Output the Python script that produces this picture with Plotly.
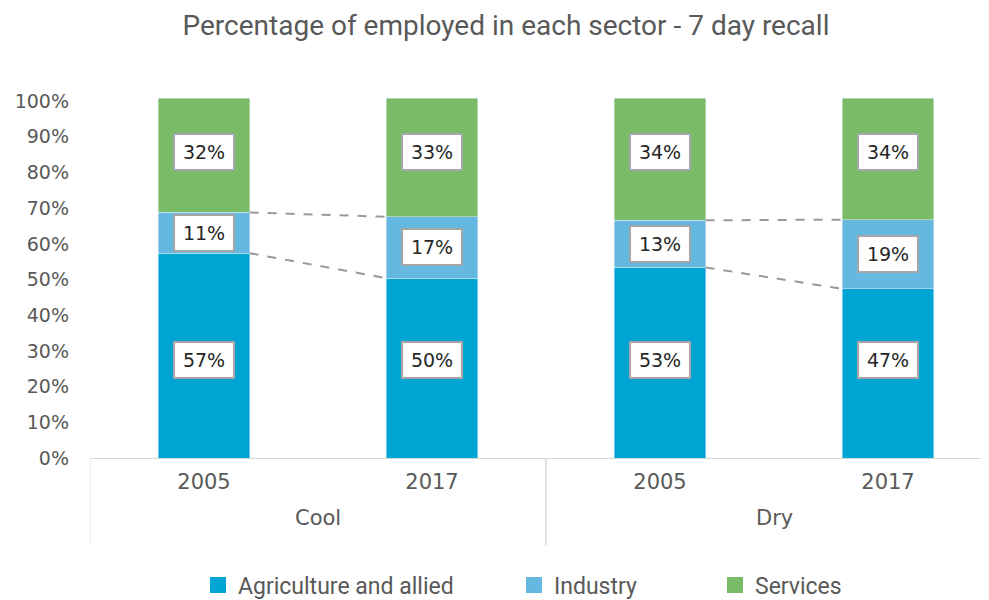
import plotly.graph_objects as go
import numpy as np

groups = ["Cool", "Cool", "Dry", "Dry"]
years = ["2005", "2017", "2005", "2017"]
agriculture = [57.4, 50.4, 53.4, 47.4]
industry = [11.4, 17.2, 13.2, 19.4]
services = [32.0, 33.2, 34.2, 34.0]
series_names = ["Agriculture and allied", "Industry", "Services"]
colors = ["#00A5D4", "#65B9E0", "#79BC67"]
y_ticks = list(range(0, 101, 10))
y_tick_text = [f"{v}%" for v in y_ticks]

TICK_FONT = "DejaVu Sans"
TEXT_FONT = "Roboto"
GREY = "#595959"

# the page body adds an 8px offset, so the figure is drawn 8px smaller
W, H = 981, 592
ML, MT, MB = 82, 86, 142

xpos = np.arange(len(years))
bar_w = 0.4
series = [agriculture, industry, services]

fig = go.Figure()
for name, vals, col in zip(series_names, series, colors):
    fig.add_trace(go.Bar(x=xpos, y=vals, name=name, marker_color=col,
                         width=bar_w, showlegend=False))
# legend entries with larger square symbols, one legend box each
legend_ids = ["legend", "legend2", "legend3"]
for name, col, lg in zip(series_names, colors, legend_ids):
    fig.add_trace(go.Scatter(x=[None], y=[None], mode="markers", name=name,
                             legend=lg,
                             marker=dict(symbol="square", size=18, color=col)))

# value label boxes (agriculture and services labels share a common row,
# industry labels sit in the middle of their segment)
label_rows = [27.6, None, 85.7]
cum = np.zeros(len(years))
annotations = []
for vals, row in zip(series, label_rows):
    v = np.array(vals)
    mids = cum + v / 2
    for i in range(len(years)):
        yy = row if row is not None else mids[i]
        annotations.append(dict(x=xpos[i], y=yy, xref="x", yref="y",
                                text=f"{v[i]:.0f}%", showarrow=False,
                                font=dict(family=TICK_FONT, size=19, color="#262626"),
                                bgcolor="white", bordercolor="#A6A6A6",
                                borderwidth=2, borderpad=2, width=54, height=30))
    cum = cum + v

# dashed connectors within each group
shapes = []
tops_agr = np.array(agriculture)
tops_ind = tops_agr + np.array(industry)
for i in range(len(years) - 1):
    if groups[i] == groups[i + 1]:
        for tops in (tops_agr, tops_ind):
            shapes.append(dict(type="line", xref="x", yref="y",
                               x0=xpos[i] + bar_w / 2, x1=xpos[i + 1] - bar_w / 2,
                               y0=tops[i], y1=tops[i + 1],
                               line=dict(color="#999999", width=2, dash="dash")))

# group labels and dividers
uniq = []
for g in groups:
    if g not in uniq:
        uniq.append(g)
for g in uniq:
    idx = [i for i, gg in enumerate(groups) if gg == g]
    annotations.append(dict(x=float(np.mean(idx)), y=-0.165, xref="x", yref="paper",
                            text=g, showarrow=False, yanchor="middle",
                            font=dict(family=TICK_FONT, size=21, color=GREY)))
    for edge in (min(idx) - 0.5, max(idx) + 0.5):
        shapes.append(dict(type="line", xref="x", yref="paper",
                           x0=edge, x1=edge, y0=0, y1=-0.239,
                           line=dict(color="#D9D9D9", width=1)))

plot_w = W - ML
legend_left_px = [190, 506, 707]
legend_cfg = {}
for lg, px in zip(legend_ids, legend_left_px):
    legend_cfg[lg] = dict(orientation="h", x=(px - ML) / plot_w, xanchor="left",
                          yref="container", y=1 - 577 / H, yanchor="middle",
                          bgcolor="rgba(0,0,0,0)",
                          font=dict(family=TEXT_FONT, size=23, color=GREY),
                          itemwidth=30)

fig.update_layout(
    width=W, height=H,
    barmode="stack",
    plot_bgcolor="white", paper_bgcolor="white",
    margin=dict(l=ML, r=0, t=MT, b=MB, autoexpand=False),
    title=dict(text="Percentage of employed in each sector - 7 day recall",
               x=498 / W, xanchor="center", y=1 - 17 / H, yanchor="middle",
               font=dict(family=TEXT_FONT, size=28, color=GREY)),
    xaxis=dict(tickmode="array", tickvals=xpos, ticktext=years,
               range=[-0.5, -0.5 + plot_w / 228], showgrid=False, zeroline=False,
               showline=True, linecolor="#D9D9D9", linewidth=1,
               ticks="", ticklabelstandoff=5, automargin=False,
               tickfont=dict(family=TICK_FONT, size=21, color=GREY)),
    yaxis=dict(range=[0, 102], tickmode="array", tickvals=y_ticks, ticktext=y_tick_text,
               showgrid=False, zeroline=False, showline=False,
               ticks="", ticklabelstandoff=20, automargin=False,
               tickfont=dict(family=TICK_FONT, size=19, color=GREY)),
    annotations=annotations,
    shapes=shapes,
    **legend_cfg,
)

fig.write_html("out.html")
